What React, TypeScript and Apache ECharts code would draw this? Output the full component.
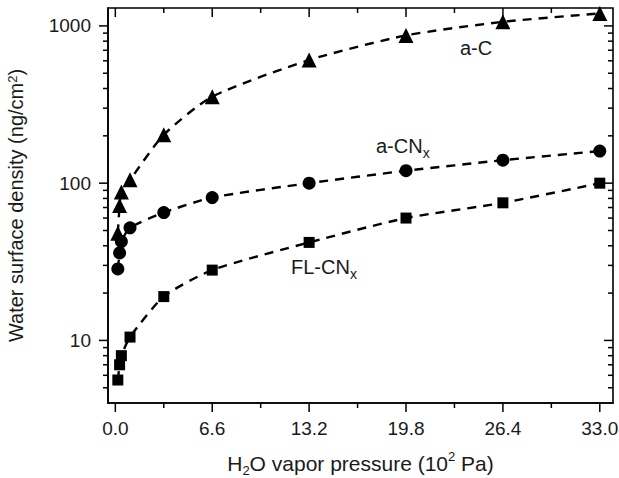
import React, { useEffect, useRef } from 'react';
import * as echarts from 'echarts';

// ---- data ----
const pressure = [0.17, 0.29, 0.41, 1.0, 3.3, 6.6, 13.2, 19.8, 26.4, 33.0];
const aC = [48, 72, 88, 105, 203, 355, 607, 870, 1062, 1200];
const aCNx = [28.5, 36, 42.5, 52, 65, 81, 100, 120, 140, 160];
const flCNx = [5.6, 7.0, 8.0, 10.5, 19, 28, 42, 60, 75, 100];

const xMajorTicks = [0, 6.6, 13.2, 19.8, 26.4, 33.0];
const xMinorTicks = [3.3, 9.9, 16.5, 23.1, 29.7];
const yMajorTicks = [10, 100, 1000];
const yMinorTicks = [5, 6, 7, 8, 9, 20, 30, 40, 50, 60, 70, 80, 90, 200, 300, 400, 500, 600, 700, 800, 900];

const X_MIN = -0.5;
const X_MAX = 33.9;
const Y_MIN = 4;
const Y_MAX = 1300;

const FONT = '"Liberation Sans", Arial, Helvetica, sans-serif';
const TXT = '#1a1a1a';

const App: React.FC = () => {
  const ref = useRef<HTMLDivElement>(null);

  useEffect(() => {
    if (!ref.current) return;
    const chart = echarts.init(ref.current, undefined, { renderer: 'svg' });

    const toPairs = (ys: number[]) => pressure.map((x, i) => [x, ys[i]]);

    const xTickData = [
      ...xMajorTicks.map((v) => [v, Y_MIN, 1]),
      ...xMinorTicks.map((v) => [v, Y_MIN, 0]),
    ];
    const yTickData = [
      ...yMajorTicks.map((v) => [X_MIN, v, 1]),
      ...yMinorTicks.map((v) => [X_MIN, v, 0]),
    ];

    const tickStyle = { stroke: '#000', lineWidth: 1.5 };

    const richTitleX = {
      a: { fontSize: 21, fontFamily: FONT, color: TXT, lineHeight: 27 },
      sub: { fontSize: 13, fontFamily: FONT, color: TXT, lineHeight: 13, verticalAlign: 'bottom' },
      sup: { fontSize: 13, fontFamily: FONT, color: TXT, lineHeight: 12, verticalAlign: 'top' },
    };
    const richTitleY = {
      a: { fontSize: 20, fontFamily: FONT, color: TXT, lineHeight: 22, verticalAlign: 'top' },
      sup: { fontSize: 13, fontFamily: FONT, color: TXT, lineHeight: 8, verticalAlign: 'top' },
    };

    const dashed = { type: [9, 7] as any, width: 2.4, color: '#000' };

    const lineSeries = (name: string, ys: number[], symbol: string, size: number) => ({
      name,
      type: 'line',
      data: toPairs(ys),
      symbol,
      symbolSize: size,
      smooth: 0.22,
      lineStyle: dashed,
      itemStyle: { color: '#000' },
      z: 3,
    });

    const labelRich = {
      a: { fontSize: 20, fontFamily: FONT, fill: TXT, lineHeight: 22, verticalAlign: 'top' },
      s: { fontSize: 14, fontFamily: FONT, fill: TXT, lineHeight: 34 },
    };

    chart.setOption({
      animation: false,
      backgroundColor: '#fff',
      grid: {
        left: 108,
        right: 6,
        top: 8,
        bottom: 75,
        outerBoundsMode: 'none',
        containLabel: false,
        show: true,
        borderColor: '#000',
        borderWidth: 1.6,
        backgroundColor: 'transparent',
      },
      xAxis: {
        type: 'value',
        min: X_MIN,
        max: X_MAX,
        axisLine: { show: true, onZero: false, lineStyle: { color: '#000', width: 1.6 } },
        axisTick: { show: false },
        splitLine: { show: false },
        axisLabel: {
          customValues: xMajorTicks,
          formatter: (v: number) => v.toFixed(1),
          fontFamily: FONT,
          fontSize: 19,
          color: TXT,
          margin: 16,
        },
        name: '{a|H}{sub|2}{a|O vapor pressure (10}{sup|2}{a| Pa)}',
        nameLocation: 'middle',
        nameGap: 47,
        nameTextStyle: { rich: richTitleX },
      },
      yAxis: {
        type: 'log',
        logBase: 10,
        min: Y_MIN,
        max: Y_MAX,
        axisLine: { show: true, onZero: false, lineStyle: { color: '#000', width: 1.6 } },
        axisTick: { show: false },
        splitLine: { show: false },
        minorTick: { show: false },
        axisLabel: {
          formatter: (v: number) => {
            const l = Math.log10(v);
            return Math.abs(l - Math.round(l)) < 1e-6 ? String(Math.round(v)) : '';
          },
          fontFamily: FONT,
          fontSize: 19,
          color: TXT,
          margin: 17,
          showMinLabel: true,
          showMaxLabel: true,
        },
        name: '{a|Water surface density (ng/cm}{sup|2}{a|)}',
        nameLocation: 'middle',
        nameRotate: 90,
        nameGap: 80,
        nameTextStyle: { rich: richTitleY },
      },
      graphic: [
        {
          type: 'text',
          x: 460,
          y: 38,
          style: { text: '{a|a-C}', rich: labelRich, textVerticalAlign: 'top' },
        },
        {
          type: 'text',
          x: 376,
          y: 136,
          style: { text: '{a|a-CN}{s|x}', rich: labelRich, textVerticalAlign: 'top' },
        },
        {
          type: 'text',
          x: 291,
          y: 257,
          style: { text: '{a|FL-CN}{s|x}', rich: labelRich, textVerticalAlign: 'top' },
        },
      ],
      series: [
        lineSeries('a-C', aC, 'triangle', 15),
        lineSeries('a-CNx', aCNx, 'circle', 13),
        lineSeries('FL-CNx', flCNx, 'rect', 11),
        {
          type: 'custom',
          silent: true,
          clip: false,
          z: 5,
          encode: { x: 0, y: 1 },
          data: xTickData,
          renderItem: (params: any, api: any) => {
            const v = api.value(0);
            const major = api.value(2) === 1;
            const len = major ? 9 : 5;
            const b = api.coord([v, Y_MIN]);
            const t = api.coord([v, Y_MAX]);
            return {
              type: 'group',
              children: [
                { type: 'line', shape: { x1: b[0], y1: b[1], x2: b[0], y2: b[1] + len }, style: tickStyle },
                { type: 'line', shape: { x1: t[0], y1: t[1], x2: t[0], y2: t[1] + len }, style: tickStyle },
              ],
            };
          },
        },
        {
          type: 'custom',
          silent: true,
          clip: false,
          z: 5,
          encode: { x: 0, y: 1 },
          data: yTickData,
          renderItem: (params: any, api: any) => {
            const v = api.value(1);
            const major = api.value(2) === 1;
            const len = major ? 9 : 5;
            const l = api.coord([X_MIN, v]);
            const r = api.coord([X_MAX, v]);
            return {
              type: 'group',
              children: [
                { type: 'line', shape: { x1: l[0] - len, y1: l[1], x2: l[0], y2: l[1] }, style: tickStyle },
                { type: 'line', shape: { x1: r[0] - len, y1: r[1], x2: r[0], y2: r[1] }, style: tickStyle },
              ],
            };
          },
        },
      ],
    });

    return () => chart.dispose();
  }, []);

  return (
    <div
      ref={ref}
      style={{ position: 'fixed', left: 0, top: 0, width: 619, height: 478, background: '#fff' }}
    />
  );
};

export default App;
